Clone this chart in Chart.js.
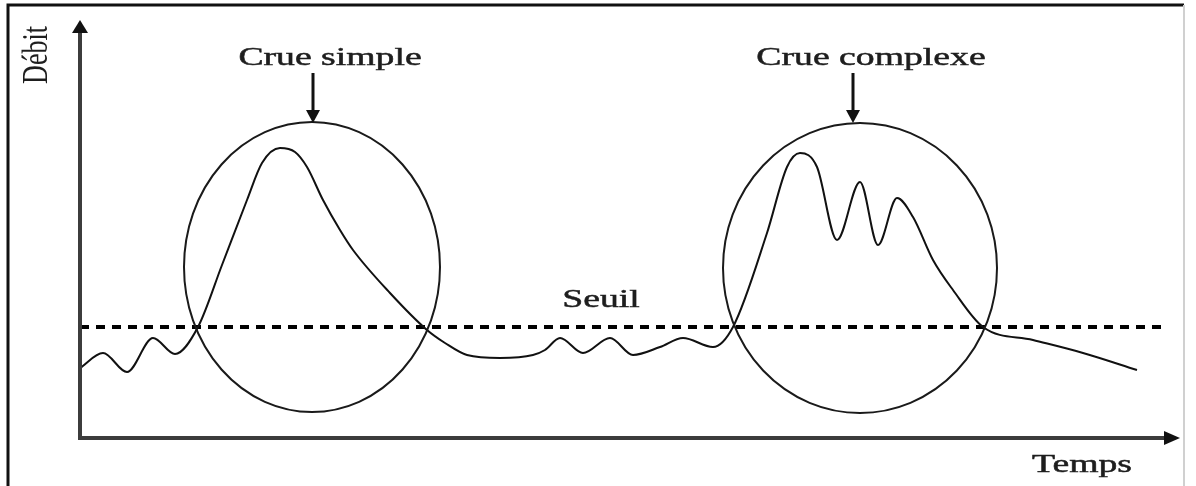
<!DOCTYPE html>
<html>
<head>
<meta charset="utf-8">
<style>
  html, body { margin: 0; padding: 0; background: #fff; }
  #wrap { width: 1196px; height: 486px; }
</style>
<script src="https://cdn.jsdelivr.net/npm/chart.js@4/dist/chart.umd.min.js"></script>
</head>
<body>
<div id="wrap"><canvas id="c" width="1196" height="486"></canvas></div>
<script>
// ---- Data (time units, discharge units) ----
const timeValues = [0, 2.3, 4.7, 7.3, 9.5, 11.8, 14.2, 16.7, 18.2, 20.0, 21.5, 22.7, 24.3, 26.0, 27.3, 31.0, 34.7,
  36.5, 38.7, 42.0, 45.3, 46.5, 48.0, 50.3, 53.0, 55.3, 58.0, 60.3, 63.3, 65.3,
  68.7, 70.7, 72.0, 73.7, 75.7, 78.0, 79.8, 81.7, 83.3, 85.3, 87.3, 90.3, 95.3, 100.3, 105.7];
const flowValues = [7.0, 8.5, 6.6, 10.0, 8.4, 11.1, 17.3, 23.8, 27.5, 29.0, 28.6, 27.1, 23.8, 20.8, 18.8, 14.5, 10.8,
  9.5, 8.3, 8.0, 8.3, 8.8, 10.0, 8.5, 10.0, 8.3, 9.1, 10.0, 9.1, 11.1,
  20.5, 27.1, 28.5, 27.1, 19.8, 25.6, 19.3, 24.0, 22.1, 17.8, 14.8, 11.1, 9.8, 8.5, 6.8];
const thresholdX = [0, 108.3];
const thresholdY = [11.1, 11.1];
const circleCenterX = [23.2, 78.0];
const circleCenterY = [17.1, 17.0];
const circleRadiusX = [12.8, 13.7];
const circleRadiusY = [14.5, 14.5];
const floodLabels = ["Crue simple", "Crue complexe"];
const floodLabelX = [25.0, 79.1];
const floodLabelY = [37.3, 37.3];
const floodArrowX = [23.3, 77.3];
const floodArrowTop = [36.5, 36.5];
const floodArrowTip = [31.5, 31.5];
const thresholdLabel = "Seuil";
const thresholdLabelPos = [52.1, 13.1];
const xAxisTitle = "Temps";
const yAxisTitle = "Débit";
const xMax = 110, yMax = 41.8;

const curve = timeValues.map((t, i) => ({ x: t, y: flowValues[i] }));
const seuil = thresholdX.map((t, i) => ({ x: t, y: thresholdY[i] }));

const FONT = '26px "Liberation Serif", "Times New Roman", serif';
const SX = 1.45;

function stretchedText(ctx, text, x, y, align) {
  ctx.save();
  ctx.font = FONT;
  const w = ctx.measureText(text).width * SX;
  let left = x;
  if (align === 'center') left = x - w / 2;
  ctx.translate(left, y);
  ctx.scale(SX, 1);
  ctx.textAlign = 'left';
  ctx.textBaseline = 'alphabetic';
  ctx.fillText(text, 0, 0);
  ctx.lineWidth = 0.5;
  ctx.strokeStyle = ctx.fillStyle;
  ctx.strokeText(text, 0, 0);
  ctx.restore();
}

const schemaPlugin = {
  id: 'schema',
  beforeDraw(chart) {
    const ctx = chart.ctx;
    ctx.save();
    ctx.fillStyle = '#fff';
    ctx.fillRect(0, 0, chart.width, chart.height);
    // outer frame
    ctx.strokeStyle = '#111';
    ctx.lineWidth = 3;
    ctx.beginPath();
    ctx.moveTo(8, 490); ctx.lineTo(8, 5); ctx.lineTo(1184, 5);
    ctx.stroke();
    ctx.strokeStyle = '#d0d0d0';
    ctx.lineWidth = 2;
    ctx.beginPath();
    ctx.moveTo(1184, 5); ctx.lineTo(1184, 490);
    ctx.stroke();
    ctx.restore();
  },
  afterDatasetsDraw(chart) {
    const ctx = chart.ctx;
    const xs = chart.scales.x, ys = chart.scales.y;
    ctx.save();
    // circles
    ctx.strokeStyle = '#1a1a1a';
    ctx.lineWidth = 2;
    for (let i = 0; i < circleCenterX.length; i++) {
      const cx = xs.getPixelForValue(circleCenterX[i]);
      const cy = ys.getPixelForValue(circleCenterY[i]);
      const rx = Math.abs(xs.getPixelForValue(circleCenterX[i] + circleRadiusX[i]) - cx);
      const ry = Math.abs(ys.getPixelForValue(circleCenterY[i] + circleRadiusY[i]) - cy);
      ctx.beginPath();
      ctx.ellipse(cx, cy, rx, ry, 0, 0, Math.PI * 2);
      ctx.stroke();
    }
    // axes
    const x0 = xs.getPixelForValue(0), y0 = ys.getPixelForValue(0);
    const xEnd = xs.getPixelForValue(xMax), yEnd = ys.getPixelForValue(yMax);
    ctx.strokeStyle = '#3c3c3c';
    ctx.fillStyle = '#111';
    ctx.lineWidth = 4;
    ctx.beginPath();
    ctx.moveTo(x0, yEnd + 10); ctx.lineTo(x0, y0); ctx.lineTo(xEnd - 10, y0);
    ctx.stroke();
    ctx.beginPath();
    ctx.moveTo(x0, yEnd); ctx.lineTo(x0 - 8, yEnd + 13); ctx.lineTo(x0 + 8, yEnd + 13); ctx.closePath();
    ctx.fill();
    ctx.beginPath();
    ctx.moveTo(xEnd, y0); ctx.lineTo(xEnd - 16, y0 - 7); ctx.lineTo(xEnd - 16, y0 + 7); ctx.closePath();
    ctx.fill();
    // flood arrows
    ctx.strokeStyle = '#111';
    ctx.lineWidth = 3;
    for (let i = 0; i < floodArrowX.length; i++) {
      const ax = xs.getPixelForValue(floodArrowX[i]);
      const at = ys.getPixelForValue(floodArrowTop[i]);
      const tip = ys.getPixelForValue(floodArrowTip[i]);
      ctx.beginPath();
      ctx.moveTo(ax, at); ctx.lineTo(ax, tip - 10);
      ctx.stroke();
      ctx.beginPath();
      ctx.moveTo(ax, tip); ctx.lineTo(ax - 7, tip - 13); ctx.lineTo(ax + 7, tip - 13); ctx.closePath();
      ctx.fill();
    }
    // texts
    ctx.fillStyle = '#1e1e1e';
    for (let i = 0; i < floodLabels.length; i++) {
      stretchedText(ctx, floodLabels[i], xs.getPixelForValue(floodLabelX[i]), ys.getPixelForValue(floodLabelY[i]), 'center');
    }
    stretchedText(ctx, thresholdLabel, xs.getPixelForValue(thresholdLabelPos[0]), ys.getPixelForValue(thresholdLabelPos[1]), 'center');
    stretchedText(ctx, xAxisTitle, 1082, 472, 'center');
    // rotated y title
    ctx.save();
    ctx.font = FONT;
    ctx.translate(47, 55);
    ctx.scale(SX * 0.95, 1);
    ctx.rotate(-Math.PI / 2);
    ctx.textAlign = 'center';
    ctx.textBaseline = 'alphabetic';
    ctx.fillText(yAxisTitle, 0, 0);
    ctx.restore();
    ctx.restore();
  }
};

new Chart(document.getElementById('c'), {
  type: 'line',
  data: {
    datasets: [
      {
        label: 'Débit',
        data: curve,
        borderColor: '#111',
        borderWidth: 2,
        pointRadius: 0,
        cubicInterpolationMode: 'monotone',
        fill: false
      },
      {
        label: 'Seuil',
        data: seuil,
        borderColor: '#000',
        borderWidth: 4,
        borderDash: [9, 7],
        pointRadius: 0,
        fill: false
      }
    ]
  },
  options: {
    responsive: false,
    animation: false,
    devicePixelRatio: 1,
    layout: { padding: { left: 80, right: 16, top: 20, bottom: 48 } },
    scales: {
      x: { type: 'linear', min: 0, max: xMax, display: false },
      y: { type: 'linear', min: 0, max: yMax, display: false }
    },
    plugins: { legend: { display: false }, tooltip: { enabled: false } }
  },
  plugins: [schemaPlugin]
});
</script>
</body>
</html>
